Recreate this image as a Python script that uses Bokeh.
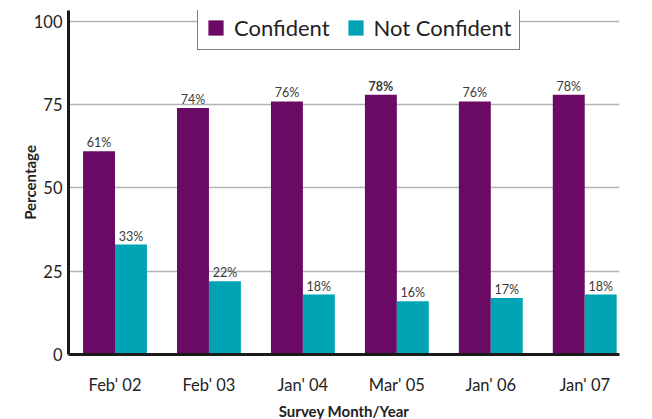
from bokeh.plotting import figure
from bokeh.models import ColumnDataSource, Legend, LegendItem, Range1d, FixedTicker
from bokeh.embed import file_html
from bokeh.resources import INLINE
from bokeh.core.properties import value

categories = ["Feb' 02", "Feb' 03", "Jan' 04", "Mar' 05", "Jan' 06", "Jan' 07"]
confident = [61, 74, 76, 78, 76, 78]
not_confident = [33, 22, 18, 16, 17, 18]
y_ticks = [0, 25, 50, 75, 100]

PURPLE = "#6a0a64"
TEAL = "#00a4b4"
FONT = "Lato"
bw = 0.34

xs = list(range(len(categories)))
src_c = ColumnDataSource(dict(
    x=[i - bw / 2 for i in xs], top=confident,
    label=[f"{v}%" for v in confident],
    style=["bold" if c == "Mar' 05" else "normal" for c in categories]))
src_n = ColumnDataSource(dict(
    x=[i + bw / 2 for i in xs], top=not_confident,
    label=[f"{v}%" for v in not_confident]))

p = figure(frame_width=551, frame_height=344, output_backend="svg", toolbar_location=None,
           x_range=Range1d(-0.495, 5.37), y_range=Range1d(0, 103.3),
           min_border_left=40, min_border_right=14, min_border_top=10, min_border_bottom=48)
p.margin = (0, 0, 0, 17)
p.outline_line_color = None
p.background_fill_color = "white"

r1 = p.vbar(x="x", top="top", width=bw, source=src_c, fill_color=PURPLE, line_color=None)
r2 = p.vbar(x="x", top="top", width=bw, source=src_n, fill_color=TEAL, line_color=None)

p.text(x="x", y="top", text="label", source=src_c, text_align="center", text_baseline="bottom",
       y_offset=-1, text_font=value(FONT), text_font_size="12.5px", text_color="#3a3a3a",
       text_font_style="style")
p.text(x="x", y="top", text="label", source=src_n, text_align="center", text_baseline="bottom",
       y_offset=-1, text_font=value(FONT), text_font_size="12.5px", text_color="#3a3a3a")

p.xgrid.grid_line_color = None
p.ygrid.grid_line_color = "#b3b3b3"
p.ygrid.grid_line_width = 1.5
p.ygrid.ticker = FixedTicker(ticks=[25, 50, 75, 100])

p.yaxis.ticker = FixedTicker(ticks=y_ticks)
p.xaxis.ticker = FixedTicker(ticks=xs)
p.xaxis.major_label_overrides = {i: c for i, c in enumerate(categories)}

for ax in (p.xaxis, p.yaxis):
    ax.axis_line_color = "#1a1a1a"
    ax.axis_line_width = 3
    ax.major_tick_line_color = None
    ax.minor_tick_line_color = None
    ax.major_tick_out = 0
    ax.major_tick_in = 0
    ax.minor_tick_out = 0
    ax.major_label_text_font = FONT
    ax.major_label_text_font_size = "16.5px"
    ax.major_label_text_color = "#222222"
    ax.axis_label_text_font = FONT
    ax.axis_label_text_font_style = "bold"
    ax.axis_label_text_font_size = "15px"
    ax.axis_label_text_color = "#222222"

p.yaxis.axis_label = "Percentage"
p.xaxis.axis_label = "Survey Month/Year"
p.yaxis.major_label_standoff = 6
p.xaxis.major_label_standoff = 20
p.xaxis.axis_label_standoff = 4
p.yaxis.axis_label_standoff = -8

legend = Legend(items=[LegendItem(label="Confident", renderers=[r1]),
                       LegendItem(label="Not Confident", renderers=[r2])],
                orientation="horizontal", location=(129, 304))
legend.label_text_font = FONT
legend.label_text_font_size = "22px"
legend.label_text_color = "#222222"
legend.glyph_width = 19
legend.glyph_height = 19
legend.border_line_color = "black"
legend.border_line_width = 1.5
legend.background_fill_alpha = 1
legend.padding = 8
legend.spacing = 16
legend.margin = 0
legend.label_standoff = 9
p.add_layout(legend, "center")

open("out.html", "w").write(file_html(p, INLINE))
